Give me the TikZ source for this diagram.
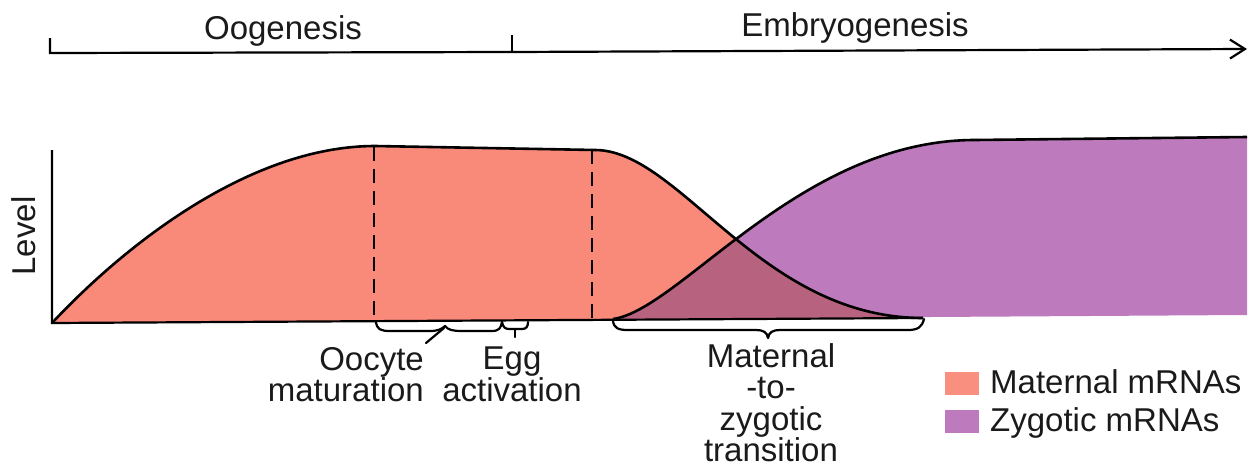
\documentclass[tikz,border=0pt]{standalone}
\usepackage{fontspec}
\setmainfont{Liberation Sans}
\usetikzlibrary{arrows.meta}
\definecolor{matpink}{HTML}{F98979}
\definecolor{zygpurple}{HTML}{BD7BBE}
\definecolor{overlapc}{HTML}{B7627F}
\definecolor{legpink}{HTML}{F9907F}
\definecolor{txt}{HTML}{1A1A1A}
\tikzset{
  curve/.style={line width=2.6pt, black, line join=round},
  axisline/.style={line width=2.2pt, black},
  dashline/.style={line width=2.8pt, black, dash pattern=on 14pt off 8pt},
  bracepath/.style={line width=2.2pt, black, line cap=round, line join=round},
  lbl/.style={font=\fontsize{33}{31.5}\selectfont, inner sep=0pt, text=txt},
  legbox/.style={minimum width=34pt, minimum height=23pt, inner sep=0pt},
}
\begin{document}
\begin{tikzpicture}[x=1pt,y=-1pt]
\useasboundingbox (0,0) rectangle (1254,469);

% ---- time axis ----
\coordinate (tl) at (50,53);
\coordinate (tltop) at (50,38);
\coordinate (tm) at (512,52);
\coordinate (tmtop) at (512,35);
\coordinate (tr) at (1247,49);
\draw[axisline] (tltop) -- (tl) -- (tm);
\draw[axisline, -{Straight Barb[length=15pt,width=19pt,line width=2.2pt]}] (tm) -- (tr);
\draw[axisline] (tmtop) -- (tm);
\node[lbl, anchor=base] (oog) at (283,39) {Oogenesis};
\node[lbl, anchor=base] (emb) at (855,36) {Embryogenesis};

% ---- filled regions ----
\fill[matpink] (52,323) .. controls (125,245) and (250,146) .. (375,146) -- (595,150)
  .. controls (680,150) and (760,318) .. (923,318) -- cycle;
\fill[zygpurple] (613,319) .. controls (680,310) and (800,140) .. (975,140) -- (1247,137)
  -- (1247,315) -- cycle;
\begin{scope}
  \clip (52,323) .. controls (125,245) and (250,146) .. (375,146) -- (595,150)
    .. controls (680,150) and (760,318) .. (923,318) -- cycle;
  \fill[overlapc] (613,319) .. controls (680,310) and (800,140) .. (975,140) -- (1247,137)
    -- (1247,315) -- cycle;
\end{scope}

% ---- outlines ----
\coordinate (o) at (52,323);
\coordinate (ytop) at (52,150);
\coordinate (bend) at (923,318);
\draw[axisline] (ytop) -- (o) -- (bend);
\draw[curve] (o) .. controls (125,245) and (250,146) .. (375,146) -- (595,150)
  .. controls (680,150) and (760,318) .. (bend);
\draw[curve] (613,319) .. controls (680,310) and (800,140) .. (975,140) -- (1247,137);

% ---- dashed lines ----
\coordinate (d1t) at (374,147);
\coordinate (d1b) at (374,322);
\coordinate (d2t) at (592,150);
\coordinate (d2b) at (592,321);
\draw[dashline] (d1t) -- (d1b);
\draw[dashline] (d2t) -- (d2b);

\node[lbl, rotate=90] (level) at (24,236) {Level};

% ---- braces ----
\draw[bracepath] (376,322) .. controls (377,329) and (380,331) .. (390,331) -- (430,331)
  .. controls (438,331) and (442,329) .. (445,326)
  .. controls (448,330) and (453,331) .. (462,331) -- (492,331)
  .. controls (499,331) and (501,328) .. (502,322);
\draw[bracepath] (444,328) -- (426,343);
\draw[bracepath] (502,322) .. controls (503,327) and (505,329) .. (509,329) -- (522,329)
  .. controls (526,329) and (528,327) .. (528,322);
\draw[bracepath] (515,329) -- (515,337);
\draw[bracepath] (613,321) .. controls (614,328) and (618,330) .. (628,330) -- (756,330)
  .. controls (763,330) and (767,332) .. (768,338)
  .. controls (769,332) and (773,330) .. (780,330) -- (908,330)
  .. controls (918,330) and (922,327) .. (924,319);

% ---- labels ----
\node[lbl, anchor=north east, align=right] (oocyte) at (424,347) {Oocyte\\maturation};
\node[lbl, anchor=north, align=center] (egg) at (512,347) {Egg\\activation};
\node[lbl, anchor=north, align=center] (mzt) at (771,343) {Maternal\\-to-\\zygotic\\transition};

% ---- legend ----
\node[legbox, fill=legpink] (lp) at (962,383) {};
\node[legbox, fill=zygpurple] (lz) at (962,421) {};
\node[lbl, anchor=base west] (lpt) at (990,393) {Maternal mRNAs};
\node[lbl, anchor=base west] (lzt) at (990,431) {Zygotic mRNAs};
\end{tikzpicture}
\end{document}
